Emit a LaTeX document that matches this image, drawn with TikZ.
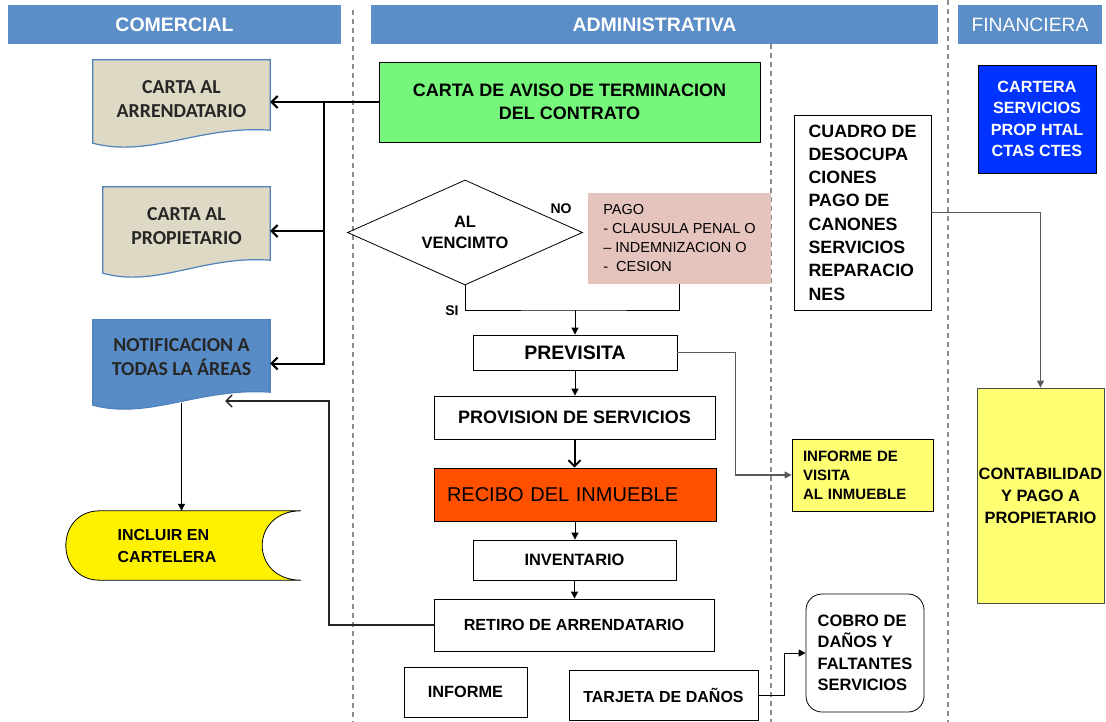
\documentclass[tikz,border=0pt]{standalone}
\usepackage{fontspec}
\setmainfont{Liberation Sans}
\newfontfamily\calfont{Carlito}
\usetikzlibrary{arrows.meta,calc,shapes.geometric}

\definecolor{hdrblue}{RGB}{91,141,199}
\definecolor{beigefill}{RGB}{221,217,196}
\definecolor{docblue}{RGB}{79,129,189}
\definecolor{notifblue}{RGB}{88,140,198}
\definecolor{lgreen}{RGB}{118,246,122}
\definecolor{pinkfill}{RGB}{230,196,190}
\definecolor{orng}{RGB}{255,80,0}
\definecolor{ylw}{RGB}{255,255,115}
\definecolor{cartblue}{RGB}{0,51,255}
\definecolor{lanegray}{RGB}{140,140,140}

\newcommand\setfs[2]{\fontsize{#1}{#2}\selectfont}
% document symbol with a wavy bottom edge, drawn around a named node
\newcommand\docpath[3]{%
  \draw[draw=#3, line width=1.2pt, fill=#2]
    (#1.north west) -- (#1.north east) -- ($(#1.south east)+(0,-15)$)
    .. controls ($(#1.south east)!0.4!(#1.south west)+(0,-20)$)
       and ($(#1.south east)!0.68!(#1.south west)+(0,13)$)
    .. ($(#1.south west)+(0,-2)$) -- cycle;}

\begin{document}
\begin{tikzpicture}[x=1pt,y=-1pt,
  hdr/.style={fill=hdrblue, text=white, inner sep=0, minimum height=39,
              font=\setfs{19.5}{22}\bfseries},
  lane/.style={draw=lanegray, line width=1.3pt, dash pattern=on 5pt off 4pt},
  box/.style={draw=black, line width=0.8pt, inner sep=0, align=center},
  geom/.style={inner sep=0},
  doctext/.style={align=center, font=\calfont\setfs{19.8}{24}\bfseries, text=black!85},
  lbl/.style={font=\setfs{14}{16}\bfseries, inner sep=0},
  conn/.style={draw=black, line width=1pt},
  thickconn/.style={draw=black, line width=2pt},
  medconn/.style={draw=black!85, line width=1.5pt},
  grayconn/.style={draw=black!65, line width=1.2pt},
  openarr/.style={-{Straight Barb[length=6pt,width=12pt]}},
  triarr/.style={-{Triangle[length=7pt,width=7pt]}}
]
\useasboundingbox (0,0) rectangle (1106,722);

% lane separators
\draw[lane] (353,10) -- (353,722);
\draw[lane] (771,44) -- (771,722);
\draw[lane] (948,0) -- (948,722);

% lane headers
\node[hdr, minimum width=333] (hcom) at (174.5,24.5) {COMERCIAL};
\node[hdr, minimum width=567] (hadm) at (654.5,24.5) {ADMINISTRATIVA};
\node[hdr, minimum width=144, font=\setfs{19.3}{22}] (hfin) at (1030,24.5) {FINANCIERA};

% COMERCIAL lane
\node[geom, minimum width=177, minimum height=85] (carta1) at (181.5,102.5) {};
\docpath{carta1}{beigefill}{docblue}
\node[doctext] (carta1t) at ($(carta1.center)+(0,-3)$) {CARTA AL\\ARRENDATARIO};

\node[geom, minimum width=167, minimum height=88] (carta2) at (186.5,231) {};
\docpath{carta2}{beigefill}{docblue}
\node[doctext] (carta2t) at ($(carta2.center)+(0,-5)$) {CARTA AL\\PROPIETARIO};

\node[geom, minimum width=177, minimum height=87] (notif) at (181.5,363.5) {};
\docpath{notif}{notifblue}{docblue}
\node[doctext] (notift) at ($(notif.center)+(0,-6.5)$) {NOTIFICACION A\\TODAS LA ÁREAS};

\node[geom, minimum width=235, minimum height=69] (incl) at (183.5,545.5) {};
\draw[fill=yellow, line width=0.8pt]
  ($(incl.north west)+(34,0)$)
  .. controls ($(incl.north west)+(-11.3,0)$) and ($(incl.south west)+(-11.3,0)$)
  .. ($(incl.south west)+(34,0)$) -- (incl.south east)
  .. controls ($(incl.south east)+(-52,0)$) and ($(incl.north east)+(-52,0)$)
  .. (incl.north east) -- cycle;
\node[align=left, font=\setfs{16}{22}\bfseries] (inclt) at (167,546) {INCLUIR EN\\CARTELERA};

% ADMINISTRATIVA lane
\node[box, fill=lgreen, minimum width=381, minimum height=80,
      font=\setfs{18}{23}\bfseries] (green) at (569.5,102)
      {CARTA DE AVISO DE TERMINACION\\DEL CONTRATO};

\node[diamond, draw=black, line width=0.8pt, aspect=2.24, inner sep=0,
      minimum width=235, minimum height=105, align=center,
      font=\setfs{16.5}{21}\bfseries] (dia) at (465,232.5) {AL\\VENCIMTO};

\node[fill=pinkfill, minimum width=183, minimum height=91, inner sep=0,
      align=left, font=\setfs{14.5}{19}] (pago) at (679.5,238.5)
      {PAGO\\- CLAUSULA PENAL O\\– INDEMNIZACION O\\-\ \ CESION};

\node[lbl] (nolbl) at (561,209) {NO};
\node[lbl] (silbl) at (452,311) {SI};

\node[box, minimum width=204, minimum height=35, font=\setfs{19.5}{22}\bfseries]
      (prev) at (575,352.5) {PREVISITA};
\node[box, minimum width=281, minimum height=43, font=\setfs{18}{22}\bfseries]
      (prov) at (574.5,417.5) {PROVISION DE SERVICIOS};
\node[box, fill=orng, minimum width=282, minimum height=53, text width=256,
      inner xsep=13, align=left, font=\setfs{20}{22}]
      (recibo) at (575,494.5) {RECIBO DEL INMUEBLE};
\node[box, minimum width=203, minimum height=40, font=\setfs{16.4}{20}\bfseries]
      (inv) at (574.5,560) {INVENTARIO};
\node[box, minimum width=280, minimum height=52, font=\setfs{16.1}{20}\bfseries]
      (retiro) at (574,625) {RETIRO DE ARRENDATARIO};
\node[box, minimum width=123, minimum height=50, font=\setfs{16.3}{20}\bfseries]
      (informe) at (465.5,692) {INFORME};
\node[box, minimum width=189, minimum height=50, font=\setfs{16}{20}\bfseries]
      (tarjeta) at (663.5,695) {TARJETA DE DAÑOS};

\node[box, rounded corners=16, minimum width=118, minimum height=118, align=left,
      font=\setfs{16.5}{21.5}\bfseries] (cobro) at (865,653)
      {COBRO DE\\DAÑOS Y\\FALTANTES\\SERVICIOS};
\node[box, fill=ylw, minimum width=141, minimum height=72, text width=119,
      inner xsep=11, align=left, font=\setfs{15}{19}\bfseries]
      (infvis) at (862.5,475) {INFORME DE\\VISITA\\AL INMUEBLE};
\node[box, minimum width=137, minimum height=195, align=left,
      font=\setfs{17.8}{23.3}\bfseries] (cuadro) at (862.5,212.5)
      {CUADRO DE\\DESOCUPA\\CIONES\\PAGO DE\\CANONES\\SERVICIOS\\REPARACIO\\NES};

% FINANCIERA lane
\node[box, fill=cartblue, text=white, minimum width=118, minimum height=108,
      font=\setfs{16.2}{21.3}\bfseries] (cartera) at (1037,119)
      {CARTERA\\SERVICIOS\\PROP HTAL\\CTAS CTES};
\node[box, draw=black!70, fill=ylw, minimum width=127, minimum height=215,
      font=\setfs{16.4}{22}\bfseries] (contab) at (1040.5,495.5)
      {CONTABILIDAD\\Y PAGO A\\PROPIETARIO};

% connectors
\coordinate (split) at (324,102);
\draw[thickconn, openarr] (green.west) -- (green.west -| carta1.east);
\draw[thickconn, openarr] (split) |- (carta2.east);
\draw[thickconn, openarr] (split) |- (notif.east);

\coordinate (rbend) at (329,401);
\coordinate (notifin) at (225,401);
\draw[medconn, openarr] (retiro.west) -| (rbend) -- (notifin);

\draw[conn, triarr] ($(notif.south)+(0,-4)$) -- (incl.north -| notif.south);

\coordinate (join) at (575,310);
\draw[conn] (dia.south) |- (join) -| (pago.south);
\draw[conn, triarr] (join) -- (prev.north);

\draw[conn, triarr] (prev.south) -- (prev.south |- prov.north);
\draw[thickconn, openarr] (prov.south) -- (prov.south |- recibo.north);
\draw[conn, triarr] (recibo.south) -- (recibo.south |- inv.north);
\draw[conn, triarr] (inv.south) -- (inv.south |- retiro.north);

\path (prev.east) ++(58,0) coordinate (pvx);
\draw[grayconn, triarr] (prev.east) -- (pvx) |- (infvis.west);

\path (tarjeta.east) ++(26,0) coordinate (tjx);
\draw[conn, triarr] (tarjeta.east) -- (tjx) |- (cobro.west);

\draw[grayconn, triarr] (cuadro.east) -| (contab.north);
\end{tikzpicture}
\end{document}
